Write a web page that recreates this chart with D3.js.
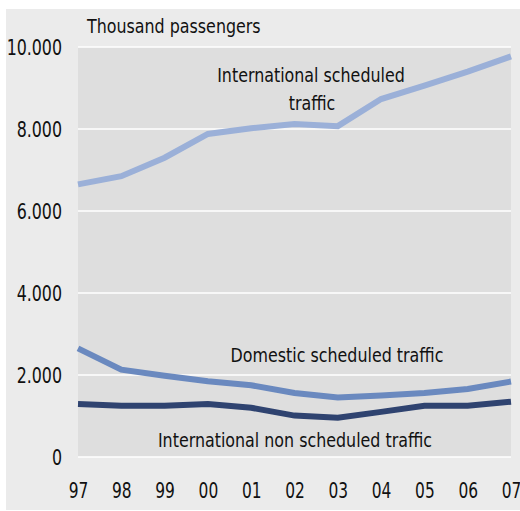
<!DOCTYPE html>
<html>
<head>
<meta charset="utf-8">
<script src="https://cdn.jsdelivr.net/npm/d3@7"></script>
<style>
    body { margin: 0; background: #ffffff; }
    svg text { font-family: "DejaVu Sans Condensed", "DejaVu Sans", sans-serif; font-stretch: condensed; fill: #111; }
</style>
</head>
<body>
<div id="chart"></div>
<script>
var years = ["97", "98", "99", "00", "01", "02", "03", "04", "05", "06", "07"];
var intlScheduled = [6650, 6850, 7300, 7880, 8020, 8120, 8070, 8730, 9060, 9400, 9770];
var domesticScheduled = [2650, 2130, 1980, 1850, 1750, 1560, 1450, 1500, 1560, 1660, 1840];
var intlNonScheduled = [1290, 1250, 1250, 1290, 1200, 1010, 960, 1100, 1250, 1250, 1350];
var yTicks = [0, 2000, 4000, 6000, 8000, 10000];

var series = [
    { values: intlScheduled, color: "#9bb0d8" },
    { values: domesticScheduled, color: "#6a89bf" },
    { values: intlNonScheduled, color: "#2f4370" }
];

var width = 520, height = 511;
var plotLeft = 78, plotRight = 511, plotTop = 47, plotBottom = 457;

var svg = d3.select("#chart").append("svg")
    .attr("width", width)
    .attr("height", height);

//backgrounds
svg.append("rect")
    .attr("x", 6).attr("y", 9)
    .attr("width", width - 6).attr("height", 501)
    .attr("fill", "#ebebeb");
svg.append("rect")
    .attr("x", plotLeft).attr("y", plotTop)
    .attr("width", plotRight - plotLeft).attr("height", plotBottom - plotTop)
    .attr("fill", "#dedede");

var x = d3.scalePoint().domain(years).range([plotLeft, plotRight]);
var y = d3.scaleLinear().domain([0, 10000]).range([plotBottom, plotTop]);

var fmt = function (v) {
    return v == 0 ? "0" : d3.format(",")(v).replace(",", ".");
}

//gridlines
svg.append("g").selectAll("line")
    .data(yTicks)
    .enter().append("line")
    .attr("x1", plotLeft).attr("x2", plotRight)
    .attr("y1", function (d) { return y(d); })
    .attr("y2", function (d) { return y(d); })
    .attr("stroke", "#ffffff")
    .attr("stroke-width", 1.6);

//y axis
var yAxis = svg.append("g")
    .attr("transform", "translate(" + (plotLeft - 16) + ",0)")
    .call(d3.axisLeft(y).tickValues(yTicks).tickFormat(fmt).tickSize(0).tickPadding(0));
yAxis.select(".domain").remove();
yAxis.selectAll("text")
    .style("font-size", "22px")
    .attr("dy", "0.36em")
    .attr("transform", "scale(0.8,1)");

//x axis
var xAxis = svg.append("g")
    .attr("transform", "translate(0," + 498 + ")")
    .call(d3.axisBottom(x).tickSize(0).tickPadding(0));
xAxis.select(".domain").remove();
xAxis.selectAll("text")
    .style("font-size", "22px")
    .attr("dy", "0")
    .attr("transform", "scale(0.78,1)");

//lines
var line = d3.line()
    .x(function (d, i) { return x(years[i]); })
    .y(function (d) { return y(d); });

svg.append("g").selectAll("path")
    .data(series)
    .enter().append("path")
    .attr("d", function (d) { return line(d.values); })
    .attr("fill", "none")
    .attr("stroke", function (d) { return d.color; })
    .attr("stroke-width", 6)
    .attr("stroke-linejoin", "miter");

//labels
var labels = [
    { text: "Thousand passengers", x: 87, y: 33, anchor: "start" },
    { text: "International scheduled", x: 311, y: 82, anchor: "middle" },
    { text: "traffic", x: 312, y: 110, anchor: "middle" },
    { text: "Domestic scheduled traffic", x: 337, y: 362, anchor: "middle" },
    { text: "International non scheduled traffic", x: 295, y: 447, anchor: "middle" }
];
svg.append("g").selectAll("text")
    .data(labels)
    .enter().append("text")
    .attr("transform", function (d) { return "translate(" + d.x + "," + d.y + ") scale(0.93,1)"; })
    .attr("text-anchor", function (d) { return d.anchor; })
    .style("font-size", "19px")
    .text(function (d) { return d.text; });
</script>
</body>
</html>
